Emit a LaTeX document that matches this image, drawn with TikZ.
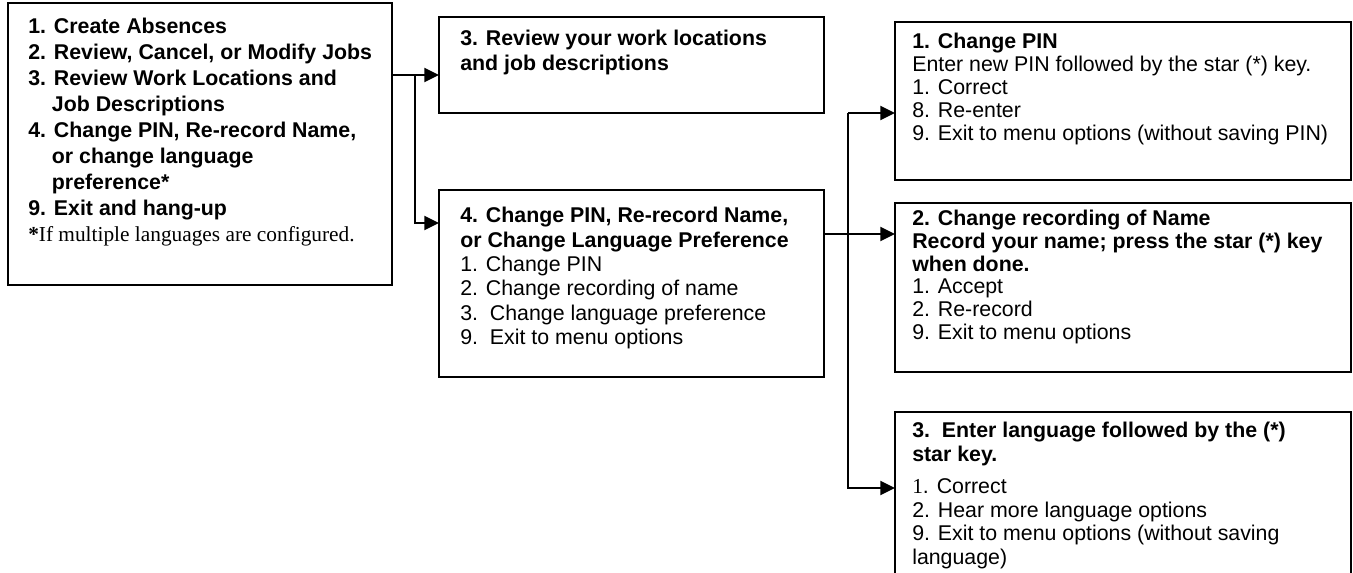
\documentclass[tikz,border=0pt]{standalone}
\usepackage{fontspec}
\setmainfont{Liberation Sans}
\newfontfamily\timesfont{Liberation Serif}
\usetikzlibrary{arrows.meta,calc}
\newcommand{\menubox}[5]% name, left, top, width, height
	{
	\node[frame,minimum width=#4*0.75pt,minimum height=#5*0.75pt] (#1) at (#2,#3) {};
	}
\tikzset{
	frame/.style={draw,line width=1.5pt,anchor=north west,inner sep=0pt,outer sep=0pt},
	menutext/.style={anchor=north west,inner sep=0pt,align=left},
	flow/.style={line width=1.5pt,-{Triangle[length=11pt,width=10.5pt]}},
}

\begin{document}
\begin{tikzpicture}[x=0.75pt,y=-0.75pt]
    \useasboundingbox (0,0) rectangle (1353,573);
    \menubox{main}{8}{3}{384}{282}
    \menubox{review}{439}{17}{385}{96}
    \menubox{changemenu}{439}{190}{385}{187}
    \menubox{pin}{895}{22}{456}{158}
    \menubox{rec}{895}{203}{456}{169}
    \menubox{lang}{895}{412}{456}{200}
    \node[menutext,font=\fontsize{16}{19.5}\selectfont\bfseries] (maintext) at (28,18)
        {1. Create Absences\\
         2. Review, Cancel, or Modify Jobs\\
         3. Review Work Locations and\\
         \hspace*{1.11em}Job Descriptions\\
         4. Change PIN, Re-record Name,\\
         \hspace*{1.11em}or change language\\
         \hspace*{1.11em}preference*\\
         9. Exit and hang-up\\
         {\timesfont\mdseries\textbf{*}If multiple languages are configured.}};
    \node[menutext,font=\fontsize{16}{18.75}\selectfont\bfseries] (reviewtext) at (460,30)
        {3. Review your work locations\\
         and job descriptions};
    \node[menutext,font=\fontsize{16}{18.3}\selectfont] (changetext) at (460,207)
        {\textbf{4. Change PIN, Re-record Name,}\\
         \textbf{or Change Language Preference}\\
         1. Change PIN\\
         2. Change recording of name\\
         3.\ \ Change language preference\\
         9.\ \ Exit to menu options};
    \node[menutext,font=\fontsize{16}{17.2}\selectfont] (pintext) at (912,33)
        {\textbf{1. Change PIN}\\
         Enter new PIN followed by the star (*) key.\\
         1. Correct\\
         8. Re-enter\\
         9. Exit to menu options (without saving PIN)};
    \node[menutext,font=\fontsize{16}{17}\selectfont] (rectext) at (912,210)
        {\textbf{2. Change recording of Name}\\
         \textbf{Record your name; press the star (*) key}\\
         \textbf{when done.}\\
         1. Accept\\
         2. Re-record\\
         9. Exit to menu options};
    \node[menutext,font=\fontsize{16}{17.6}\selectfont] (langtext) at (912,422)
        {\textbf{3.\ \ Enter language followed by the (*)}\\
         \textbf{star key.}\\[7pt]
         {\timesfont 1}. Correct\\
         2. Hear more language options\\
         9. Exit to menu options (without saving\\
         language)};
    \coordinate (split) at (415,75);
    \coordinate (splitlow) at (415,223);
    \draw[flow] (split -| main.east) -- (split -| review.west);
    \draw[flow] (split) -- (splitlow) -- (splitlow -| changemenu.west);
    \coordinate (fork) at (848,113);
    \coordinate (forkmid) at (848,234);
    \coordinate (forklow) at (848,488);
    \draw[flow] (fork) -- (fork -| pin.west);
    \draw[flow] (fork) -- (forklow) -- (forklow -| lang.west);
    \draw[flow] (forkmid -| changemenu.east) -- (forkmid -| rec.west);
\end{tikzpicture}
\end{document}
